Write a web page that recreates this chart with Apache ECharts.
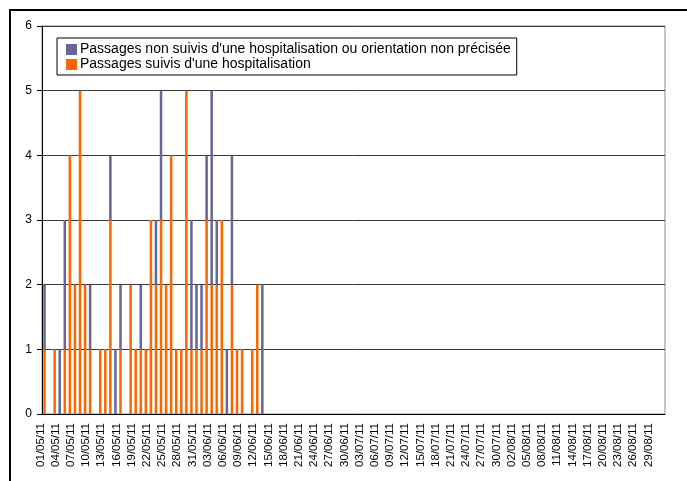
<!DOCTYPE html>
<html>
<head>
<meta charset="utf-8">
<script src="https://cdn.jsdelivr.net/npm/echarts@6.0.0/dist/echarts.min.js"></script>
<style>
  html, body { margin: 0; padding: 0; background: #fff; }
  #chart { width: 687px; height: 481px; }
</style>
</head>
<body>
<div id="chart"></div>
<script>
// mois affichés (01/05/11 -> 31/08/11)
const months = [['05', 31], ['06', 30], ['07', 31], ['08', 31]];
const dates = [];
months.forEach(([m, n]) => {
  for (let d = 1; d <= n; d++) dates.push(String(d).padStart(2, '0') + '/' + m + '/11');
});

const seriesNames = [
  "Passages non suivis d'une hospitalisation ou orientation non précisée",
  "Passages suivis d'une hospitalisation"
];

// passages par jour, à partir du 01/05/11
const hospit = [1, 0, 1, 0, 1, 4, 2, 5, 2, 1, 0, 1, 1, 3, 0, 1, 0, 2, 1, 1, 1, 3,
  2, 3, 2, 4, 1, 1, 5, 1, 1, 1, 3, 2, 2, 3, 0, 2, 1, 1, 0, 1, 2, 0];
const nonHospit = [1, 0, 0, 1, 2, 0, 0, 0, 0, 1, 0, 0, 0, 1, 1, 1, 0, 0, 0, 1, 0, 0,
  1, 2, 0, 0, 0, 0, 0, 2, 1, 1, 1, 3, 1, 0, 1, 2, 0, 0, 0, 0, 0, 2];

const yTicks = [0, 1, 2, 3, 4, 5, 6];

const FONT = 'Arial, "Liberation Sans", sans-serif';
const chart = echarts.init(document.getElementById('chart'));

chart.setOption({
  animation: false,
  textStyle: { fontFamily: FONT, color: '#000' },
  graphic: [{
    type: 'rect',
    shape: { x: 10, y: 10, width: 720, height: 520 },
    style: { fill: 'none', stroke: '#000', lineWidth: 2 },
    silent: true
  }],
  legend: {
    data: seriesNames,
    orient: 'vertical',
    left: 57,
    top: 38,
    padding: [4, 6, 3, 9],
    itemGap: 0,
    itemWidth: 11,
    itemHeight: 11,
    icon: 'rect',
    borderColor: '#000',
    borderWidth: 1,
    textStyle: { fontSize: 14, lineHeight: 15, fontFamily: FONT, color: '#000', padding: [0, 0, 0, -2] }
  },
  grid: {
    left: 42,
    right: 22,
    top: 26,
    bottom: 67,
    show: true,
    borderColor: '#8c8c8c',
    borderWidth: 1
  },
  xAxis: {
    type: 'category',
    data: dates,
    axisLine: { lineStyle: { color: '#000' } },
    axisTick: { interval: 2, length: 4, lineStyle: { color: '#000' } },
    axisLabel: {
      interval: 2,
      rotate: 90,
      fontSize: 11.5,
      margin: 9,
      color: '#000',
      fontFamily: FONT,
      verticalAlign: 'bottom',
      lineHeight: 8
    }
  },
  yAxis: {
    type: 'value',
    min: yTicks[0],
    max: yTicks[yTicks.length - 1],
    interval: 1,
    axisLine: { show: true, lineStyle: { color: '#000' } },
    axisTick: { show: true, length: 5, lineStyle: { color: '#000' } },
    axisLabel: { fontSize: 12, margin: 10, color: '#000', fontFamily: FONT },
    splitLine: { lineStyle: { color: '#3a3a3a' } }
  },
  series: [
    {
      name: seriesNames[1],
      type: 'bar',
      stack: 'passages',
      data: hospit,
      barWidth: '50%',
      itemStyle: { color: '#ff6600' }
    },
    {
      name: seriesNames[0],
      type: 'bar',
      stack: 'passages',
      data: nonHospit,
      barWidth: '50%',
      itemStyle: { color: '#666699' }
    }
  ]
});
</script>
</body>
</html>
